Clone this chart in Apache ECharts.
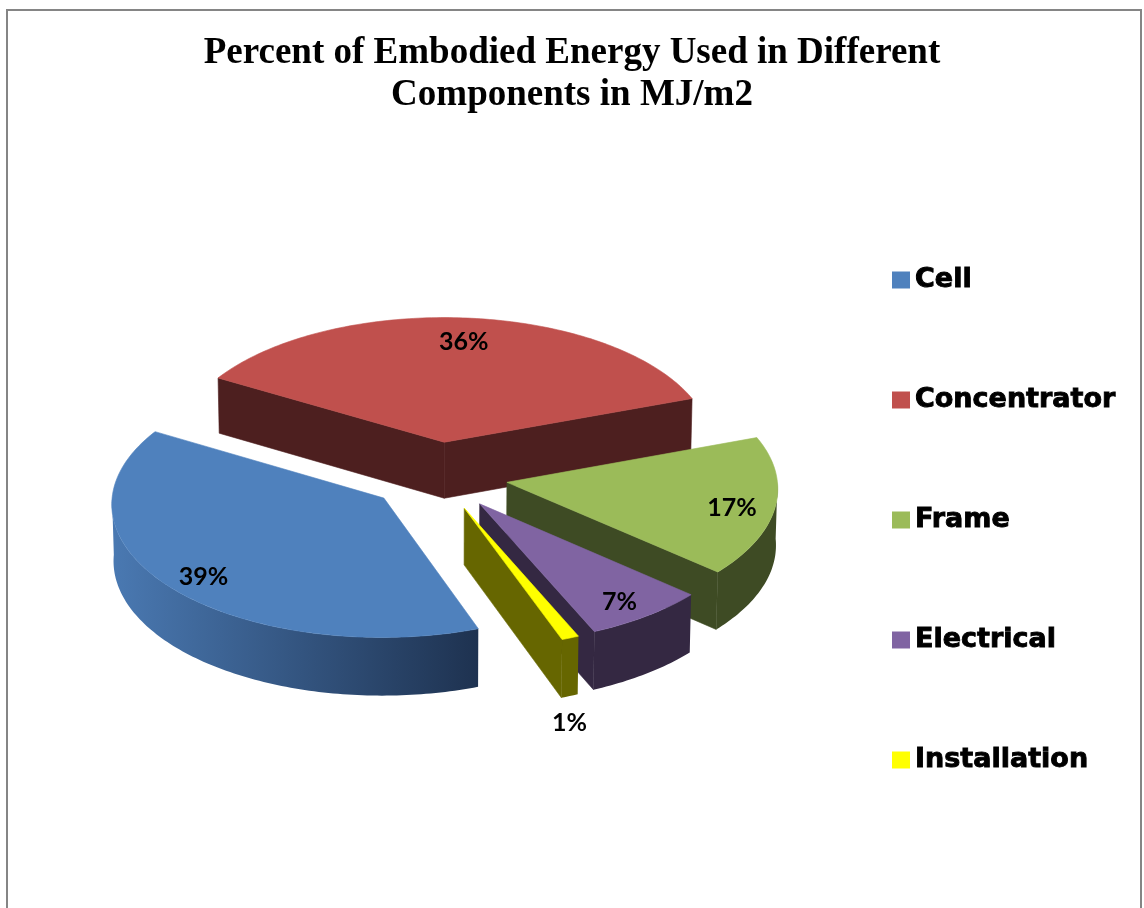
<!DOCTYPE html>
<html>
<head>
<meta charset="utf-8">
<script src="https://cdn.jsdelivr.net/npm/echarts@6/dist/echarts.min.js"></script>
<style>
  html, body { margin: 0; padding: 0; background: #ffffff; }
  #main { width: 1144px; height: 908px; }
</style>
</head>
<body>
<div id="main"></div>
<script>
// Embodied energy shares per component (percent of total MJ/m2)
const categories = ['Cell', 'Concentrator', 'Frame', 'Electrical', 'Installation'];
const values = [39, 36, 17, 7, 1];
const chartTitle = 'Percent of Embodied Energy Used in Different\nComponents in MJ/m2';

// Palette: top faces and darker side walls (a pair means a left-to-right gradient)
const topColors = ['#4F81BD', '#C0504D', '#9BBB59', '#8064A2', '#FFFF00'];
const sideColors = [['#4A79B2', '#1E3250'], '#4D1F1F', '#3E4B24', '#342842', '#666600'];

// 3D view of the exploded pie
const VIEW = {
  cx: 438, cy: 476,      // screen position of the pie centre (top plane)
  R: 270,                // radius
  tilt: 29.3,            // elevation of the eye above the pie plane, degrees
  H: 65,                 // thickness
  D: 6000,               // eye distance for a mild perspective
  explode: 70,           // distance each slice is pulled out
  first: 160,            // angle of the first slice, clockwise from 12 o'clock
  labelFrac: 0.84        // inside-label distance as a share of the radius
};

const total = values.reduce((a, b) => a + b, 0);
const rad = d => d * Math.PI / 180;
const sinT = Math.sin(rad(VIEW.tilt));
const cosT = Math.cos(rad(VIEW.tilt));

// X to the right, Y into the screen (back), Z up
function project(X, Y, Z) {
  const depth = Y * cosT - Z * sinT;
  const s = VIEW.D / (VIEW.D + depth);
  return [VIEW.cx + s * X, VIEW.cy - s * (Y * sinT + Z * cosT)];
}

function sliceGeometry(i) {
  let cum = 0;
  for (let k = 0; k < i; k++) cum += values[k];
  const a0 = VIEW.first + cum / total * 360;
  const a1 = a0 + values[i] / total * 360;
  const mid = (a0 + a1) / 2;
  const ox = VIEW.explode * Math.sin(rad(mid));
  const oy = VIEW.explode * Math.cos(rad(mid));
  const rim = (a, z, r) => project(ox + (r || VIEW.R) * Math.sin(rad(a)), oy + (r || VIEW.R) * Math.cos(rad(a)), z);
  const apex = z => project(ox, oy, z);
  const arc = (from, to, z) => {
    const n = Math.max(2, Math.ceil(Math.abs(to - from)) + 1);
    const pts = [];
    for (let j = 0; j < n; j++) pts.push(rim(from + (to - from) * j / (n - 1), z));
    return pts;
  };

  const top = [apex(0)].concat(arc(a0, a1, 0));

  // radial faces that turn towards the viewer
  const radial = [];
  if (Math.cos(rad(a0 - 90)) < 0) radial.push([apex(0), rim(a0, 0), rim(a0, -VIEW.H), apex(-VIEW.H)]);
  if (Math.cos(rad(a1 + 90)) < 0) radial.push([apex(0), rim(a1, 0), rim(a1, -VIEW.H), apex(-VIEW.H)]);

  // front part of the curved outer wall
  const walls = [];
  for (let m = Math.floor((a0 - 270) / 360); m <= Math.ceil(a1 / 360); m++) {
    const lo = Math.max(a0, 90 + 360 * m);
    const hi = Math.min(a1, 270 + 360 * m);
    if (hi > lo) walls.push(arc(lo, hi, 0).concat(arc(hi, lo, -VIEW.H)));
  }

  const sweep = a1 - a0;
  let label;
  if (sweep >= 10) {
    const p = rim(mid, 0, VIEW.R * VIEW.labelFrac);
    label = [p[0], p[1] + 5];
  } else {
    const p = rim(mid, -VIEW.H);
    label = [p[0], p[1] + 27];
  }
  return { top, radial, walls, label, depth: oy, pct: Math.round(values[i] / total * 100) };
}

const geoms = categories.map((_, i) => sliceGeometry(i));
// back slices are painted first
const order = geoms.map((g, i) => i).sort((a, b) => geoms[b].depth - geoms[a].depth);
order.forEach((idx, rank) => { geoms[idx].z = rank * 10; });

function sideFill(i) {
  const c = sideColors[i];
  if (Array.isArray(c)) {
    return new echarts.graphic.LinearGradient(0, 0, 1, 0, [
      { offset: 0, color: c[0] }, { offset: 1, color: c[1] }
    ]);
  }
  return c;
}

function makeSeries(i) {
  return {
    type: 'custom',
    name: categories[i],
    coordinateSystem: 'none',
    itemStyle: { color: topColors[i] },
    data: [values[i]],
    renderItem: function (params, api) {
      const g = geoms[i];
      const side = sideFill(i);
      const edge = Array.isArray(sideColors[i]) ? sideColors[i][1] : sideColors[i];
      const children = [];
      g.radial.forEach(pts => children.push({
        type: 'polygon', shape: { points: pts },
        style: { fill: edge, stroke: edge, lineWidth: 0.6 }, z2: g.z + 1
      }));
      g.walls.forEach(pts => children.push({
        type: 'polygon', shape: { points: pts },
        style: { fill: side, stroke: null }, z2: g.z + 2
      }));
      children.push({
        type: 'polygon', shape: { points: g.top },
        style: { fill: topColors[i], stroke: topColors[i], lineWidth: 0.6 }, z2: g.z + 3
      });
      children.push({
        type: 'text', z2: 1000,
        style: {
          text: g.pct + '%', x: g.label[0], y: g.label[1],
          fill: '#000000', align: 'center', verticalAlign: 'middle',
          font: 'bold 25px Lato'
        }
      });
      return { type: 'group', children: children };
    }
  };
}

const chart = echarts.init(document.getElementById('main'), null, { renderer: 'canvas' });
chart.setOption({
  animation: false,
  backgroundColor: '#ffffff',
  color: topColors,
  title: {
    text: chartTitle,
    left: 'center',
    top: 27,
    textStyle: {
      fontFamily: 'Liberation Serif',
      fontSize: 37,
      fontWeight: 'bold',
      lineHeight: 42,
      color: '#000000'
    }
  },
  legend: {
    orient: 'vertical',
    left: 887,
    top: 260,
    icon: 'rect',
    itemWidth: 18,
    itemHeight: 17,
    itemGap: 90,
    selectedMode: false,
    data: categories,
    textStyle: {
      fontFamily: 'DejaVu Sans',
      fontWeight: 'bold',
      fontSize: 27,
      lineHeight: 30,
      color: '#000000',
      textBorderColor: '#000000',
      textBorderWidth: 0.9
    }
  },
  graphic: [{
    type: 'rect',
    silent: true,
    z: -10,
    shape: { x: 7, y: 10, width: 1134, height: 1000 },
    style: { fill: 'none', stroke: '#858585', lineWidth: 2 }
  }],
  series: categories.map((_, i) => makeSeries(i))
});
</script>
</body>
</html>
